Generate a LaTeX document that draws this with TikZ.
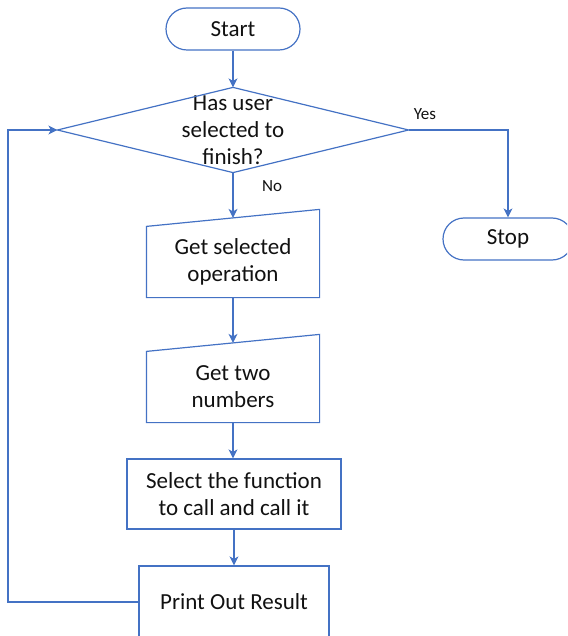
\documentclass[tikz,border=0pt]{standalone}
\usepackage{fontspec}
\setmainfont{Carlito}
\usetikzlibrary{arrows.meta,calc}
\definecolor{ln}{HTML}{4472C4}
\definecolor{tx}{HTML}{111111}
\begin{document}
\begin{tikzpicture}[x=1pt,y=-1pt,
  line width=1.2pt,
  every node/.style={text=tx, font=\fontsize{23}{27}\selectfont, align=center, inner sep=0pt},
  term/.style={draw=ln, rounded corners=21pt, minimum width=134pt, minimum height=42pt},
  procbox/.style={draw=ln, minimum height=70pt},
  plain/.style={minimum width=#1, minimum height=70pt},
  lbl/.style={font=\fontsize{17}{20}\selectfont},
  conn/.style={draw=ln, -{Stealth[length=9pt,width=9pt,inset=2.5pt]}},
  seg/.style={draw=ln}
]
\useasboundingbox (0,0) rectangle (567,636);
\clip (0,0) rectangle (567,636);

% terminals
\node[term] (start) at (233,29) {Start};
\node[term, minimum width=130pt] (stop) at (508,239) {Stop};

% decision
\node[minimum width=350pt, minimum height=84pt] (dec) at (233,130) {Has user\\selected to\\finish?};
\draw[ln] (dec.north) -- (dec.east) -- (dec.south) -- (dec.west) -- cycle;

% manual inputs
\node[plain=172pt] (gso) at (233,262) {Get selected\\operation};
\draw[ln] (gso.south west) -- (gso.south east) -- ($(gso.north east)+(0,-17)$) -- (gso.north west) -- cycle;
\coordinate (gsoin) at ($(gso.north)+(0,-8.5)$);

\node[plain=172pt] (gtn) at (233,387) {Get two\\numbers};
\draw[ln] (gtn.south west) -- (gtn.south east) -- ($(gtn.north east)+(0,-17)$) -- (gtn.north west) -- cycle;
\coordinate (gtnin) at ($(gtn.north)+(0,-8.5)$);

% process boxes
\node[procbox, minimum width=214pt] (sel) at (234,494) {Select the function\\to call and call it};
\node[procbox, minimum width=190pt, minimum height=72pt] (pr) at (234,602) {Print Out Result};

% connectors
\draw[conn] (start.south) -- (dec.north);
\draw[conn] (dec.south) -- (gsoin);
\draw[conn] (gso.south) -- (gtnin);
\draw[conn] (gtn.south) -- (gtn.south |- sel.north);
\draw[conn] (sel.south) -- (pr.north);
\draw[conn] (dec.east) -| (stop.north);
\coordinate (lp1) at (8,602);
\coordinate (lp2) at (8,130);
\draw[conn] (pr.west) -- (lp1) -- (lp2) -- (dec.west);

% labels
\node[lbl] (yes) at (425,114) {Yes};
\node[lbl] (no) at (272,186) {No};
\end{tikzpicture}
\end{document}
